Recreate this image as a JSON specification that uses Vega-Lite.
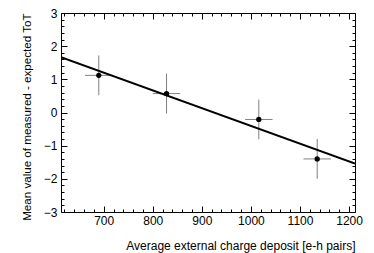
{
  "$schema": "https://vega.github.io/schema/vega-lite/v6.json",
  "width": 294,
  "height": 199,
  "autosize": {"type": "none"},
  "padding": {"left": 61, "top": 13, "right": 19, "bottom": 41},
  "background": "white",
  "config": {
    "view": {"stroke": "black", "strokeWidth": 1},
    "font": "Liberation Sans",
    "axis": {
      "domain": false,
      "grid": false,
      "tickColor": "black",
      "tickWidth": 1,
      "labelColor": "black",
      "titleColor": "black",
      "labelFont": "Liberation Sans",
      "titleFont": "Liberation Sans",
      "labelFontSize": 12,
      "titleFontSize": 12,
      "titleFontWeight": "normal"
    }
  },
  "data": {
    "values": [
      {"x": 690, "y": 1.12, "xlo": 662, "xhi": 718, "ylo": 0.52, "yhi": 1.72},
      {"x": 828, "y": 0.57, "xlo": 800, "xhi": 856, "ylo": -0.03, "yhi": 1.17},
      {"x": 1016, "y": -0.21, "xlo": 988, "xhi": 1044, "ylo": -0.81, "yhi": 0.39},
      {"x": 1135, "y": -1.40, "xlo": 1107, "xhi": 1163, "ylo": -2.0, "yhi": -0.8}
    ]
  },
  "layer": [
    {
      "mark": {"type": "rule", "color": "#808080", "strokeWidth": 1},
      "encoding": {
        "x": {
          "field": "xlo", "type": "quantitative",
          "scale": {"domain": [613, 1212], "nice": false, "zero": false},
          "axis": {
            "orient": "bottom",
            "title": "Average external charge deposit [e-h pairs]",
            "values": [620,640,660,680,700,720,740,760,780,800,820,840,860,880,900,920,940,960,980,1000,1020,1040,1060,1080,1100,1120,1140,1160,1180,1200],
            "labelExpr": "datum.value % 100 === 0 ? datum.label : ''",
            "format": "d",
            "tickSize": {"condition": {"test": "datum.value % 100 === 0", "value": -6}, "value": -3},
            "labelPadding": 9,
            "labelFlush": false,
            "labelOverlap": false,
            "titleAnchor": "end",
            "titleAlign": "right",
            "titleBaseline": "alphabetic",
            "titleX": 294,
            "titleY": 37.6
          }
        },
        "x2": {"field": "xhi"},
        "y": {
          "field": "y", "type": "quantitative",
          "scale": {"domain": [-3, 3], "nice": false, "zero": false},
          "axis": {
            "orient": "left",
            "title": "Mean value of measured - expected ToT",
            "values": [-3,-2.8,-2.6,-2.4,-2.2,-2,-1.8,-1.6,-1.4,-1.2,-1,-0.8,-0.6,-0.4,-0.2,0,0.2,0.4,0.6,0.8,1,1.2,1.4,1.6,1.8,2,2.2,2.4,2.6,2.8,3],
            "labelExpr": "abs(datum.value - round(datum.value)) < 0.001 ? format(datum.value, 'd') : ''",
            "tickSize": {"condition": {"test": "abs(datum.value - round(datum.value)) < 0.001", "value": -6}, "value": -3},
            "labelPadding": 10,
            "labelFlush": false,
            "labelOverlap": false,
            "titleAnchor": "end",
            "titleAlign": "right",
            "titleAngle": -90,
            "titleBaseline": "alphabetic",
            "titleFontSize": 11.6,
            "titleX": -31,
            "titleY": 0
          }
        }
      }
    },
    {
      "mark": {"type": "rule", "color": "#808080", "strokeWidth": 1},
      "encoding": {
        "x": {"field": "x", "type": "quantitative", "axis": null},
        "y": {"field": "ylo", "type": "quantitative", "axis": null},
        "y2": {"field": "yhi"}
      }
    },
    {
      "mark": {"type": "point", "filled": true, "color": "black", "opacity": 1, "size": 28},
      "encoding": {
        "x": {"field": "x", "type": "quantitative", "axis": null},
        "y": {"field": "y", "type": "quantitative", "axis": null}
      }
    },
    {
      "data": {"values": [{"x": 613, "y": 1.67}, {"x": 1212, "y": -1.54}]},
      "mark": {"type": "line", "color": "black", "strokeWidth": 2, "clip": true},
      "encoding": {
        "x": {"field": "x", "type": "quantitative", "axis": null},
        "y": {"field": "y", "type": "quantitative", "axis": null}
      }
    },
    {
      "mark": {"type": "point", "opacity": 0},
      "encoding": {
        "x": {
          "field": "x", "type": "quantitative",
          "axis": {
            "orient": "top", "title": null, "labels": false,
            "values": [620,640,660,680,700,720,740,760,780,800,820,840,860,880,900,920,940,960,980,1000,1020,1040,1060,1080,1100,1120,1140,1160,1180,1200],
            "tickSize": {"condition": {"test": "datum.value % 100 === 0", "value": -6}, "value": -3}
          }
        },
        "y": {
          "field": "y", "type": "quantitative",
          "axis": {
            "orient": "right", "title": null, "labels": false,
            "values": [-3,-2.8,-2.6,-2.4,-2.2,-2,-1.8,-1.6,-1.4,-1.2,-1,-0.8,-0.6,-0.4,-0.2,0,0.2,0.4,0.6,0.8,1,1.2,1.4,1.6,1.8,2,2.2,2.4,2.6,2.8,3],
            "tickSize": {"condition": {"test": "abs(datum.value - round(datum.value)) < 0.001", "value": -6}, "value": -3}
          }
        }
      }
    }
  ],
  "resolve": {"axis": {"x": "independent", "y": "independent"}}
}
